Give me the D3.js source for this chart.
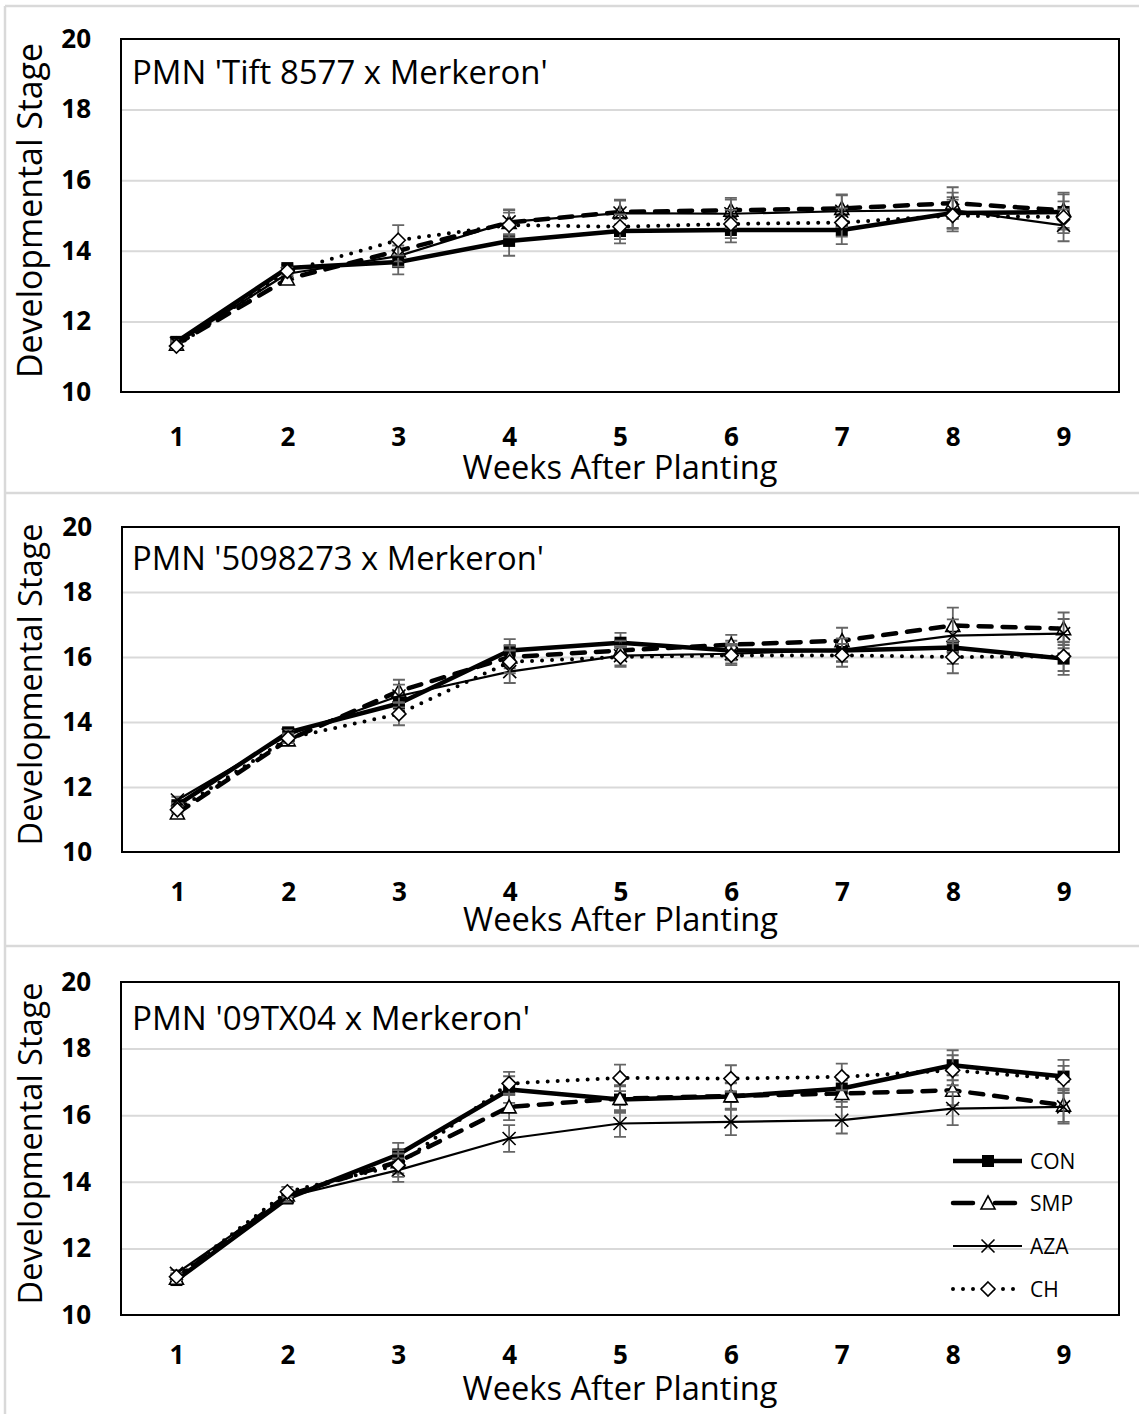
<!DOCTYPE html>
<html><head><meta charset="utf-8">
<script src="https://cdn.jsdelivr.net/npm/d3@7"></script>
<style>body{margin:0;background:#fff}svg{display:block}text{font-family:"Open Sans",sans-serif}</style>
</head><body><svg id="c" width="1139" height="1414"></svg>
<script>
const weeks = [1,2,3,4,5,6,7,8,9];
const yTicks = [10,12,14,16,18,20];
const seriesNames = ["CON","SMP","AZA","CH"];
const panelTitles = ["PMN 'Tift 8577 x Merkeron'", "PMN '5098273 x Merkeron'", "PMN '09TX04 x Merkeron'"];
const xTitle = "Weeks After Planting";
const yTitle = "Developmental Stage";

// Panel 1: Tift 8577 x Merkeron
const p1CON = [11.42,13.51,13.68,14.28,14.56,14.59,14.59,15.07,15.10];
const p1SMP = [11.35,13.20,14.00,14.80,15.10,15.15,15.20,15.35,15.15];
const p1AZA = [11.38,13.35,13.85,14.82,15.07,15.05,15.12,15.15,14.72];
const p1CH  = [11.30,13.42,14.30,14.73,14.68,14.76,14.80,15.00,14.95];
const p1CONerr = [0.08,0.10,0.35,0.42,0.35,0.35,0.40,0.45,0.50];
const p1SMPerr = [0.08,0.10,0.30,0.35,0.35,0.35,0.40,0.45,0.50];
const p1AZAerr = [0.08,0.10,0.30,0.35,0.35,0.40,0.45,0.50,0.45];
const p1CHerr  = [0.08,0.10,0.43,0.35,0.35,0.40,0.40,0.45,0.45];

// Panel 2: 5098273 x Merkeron
const p2CON = [11.44,13.68,14.57,16.20,16.44,16.20,16.20,16.29,15.95];
const p2SMP = [11.20,13.45,14.95,16.00,16.20,16.38,16.50,16.97,16.87];
const p2AZA = [11.60,13.60,14.80,15.55,16.04,16.10,16.22,16.66,16.72];
const p2CH  = [11.30,13.50,14.25,15.85,16.00,16.05,16.05,16.00,16.02];
const p2CONerr = [0.10,0.15,0.35,0.35,0.30,0.30,0.35,0.50,0.50];
const p2SMPerr = [0.10,0.15,0.35,0.35,0.30,0.30,0.40,0.55,0.50];
const p2AZAerr = [0.10,0.15,0.35,0.35,0.30,0.30,0.35,0.50,0.45];
const p2CHerr  = [0.10,0.15,0.35,0.35,0.30,0.30,0.35,0.50,0.45];

// Panel 3: 09TX04 x Merkeron
const p3CON = [11.05,13.50,14.82,16.77,16.47,16.56,16.80,17.50,17.16];
const p3SMP = [11.10,13.60,14.60,16.25,16.50,16.58,16.65,16.75,16.30];
const p3AZA = [11.25,13.55,14.35,15.30,15.75,15.80,15.85,16.20,16.25];
const p3CH  = [11.15,13.70,14.50,16.95,17.12,17.10,17.15,17.35,17.08];
const p3CONerr = [0.10,0.15,0.35,0.40,0.40,0.40,0.40,0.45,0.50];
const p3SMPerr = [0.10,0.15,0.35,0.40,0.40,0.40,0.40,0.45,0.50];
const p3AZAerr = [0.10,0.15,0.35,0.40,0.40,0.40,0.40,0.50,0.50];
const p3CHerr  = [0.10,0.15,0.35,0.35,0.40,0.40,0.40,0.45,0.40];

const panelData = [
  {CON:p1CON,SMP:p1SMP,AZA:p1AZA,CH:p1CH, err:{CON:p1CONerr,SMP:p1SMPerr,AZA:p1AZAerr,CH:p1CHerr}},
  {CON:p2CON,SMP:p2SMP,AZA:p2AZA,CH:p2CH, err:{CON:p2CONerr,SMP:p2SMPerr,AZA:p2AZAerr,CH:p2CHerr}},
  {CON:p3CON,SMP:p3SMP,AZA:p3AZA,CH:p3CH, err:{CON:p3CONerr,SMP:p3SMPerr,AZA:p3AZAerr,CH:p3CHerr}}
];

// layout (positions/styles kept out of data)
const layout = [
  {x0:121,x1:1119,y0:39,y1:392, titleY:84, xLabY:437, xTitleY:479},
  {x0:122,x1:1119,y0:527,y1:852, titleY:570, xLabY:892, xTitleY:931},
  {x0:121,x1:1119,y0:982,y1:1315, titleY:1030, xLabY:1355, xTitleY:1400}
];
const styles = {
  CON:{w:4.5, dash:null, cap:"butt"},
  SMP:{w:4.5, dash:"13,11", cap:"round"},
  AZA:{w:2.2, dash:null, cap:"butt"},
  CH:{w:4, dash:"0,10", cap:"round"}
};

const svg = d3.select("#c");
const frame = "#d9d9d9";
[[5,6,1139,6],[5,6,5,1414],[5,493,1139,493],[5,946,1139,946]].forEach(l=>
  svg.append("line").attr("x1",l[0]).attr("y1",l[1]).attr("x2",l[2]).attr("y2",l[3])
    .attr("stroke",frame).attr("stroke-width",2.5));

function fit(sel, target){
  const w = sel.node().getComputedTextLength();
  const fs = parseFloat(sel.attr("font-size"));
  sel.attr("font-size", fs*target/w);
}

function marker(g, name, cx, cy){
  if(name==="CON"){
    g.append("rect").attr("x",cx-6).attr("y",cy-6).attr("width",12).attr("height",12).attr("fill","#000");
  } else if(name==="SMP"){
    const s=7;
    g.append("path").attr("d",`M${cx},${cy-s}L${cx+s},${cy+s*0.85}L${cx-s},${cy+s*0.85}Z`)
      .attr("fill","#fff").attr("stroke","#000").attr("stroke-width",1.6);
  } else if(name==="AZA"){
    const s=6.5;
    g.append("path").attr("d",`M${cx-s},${cy-s}L${cx+s},${cy+s}M${cx-s},${cy+s}L${cx+s},${cy-s}`)
      .attr("stroke","#000").attr("stroke-width",1.6).attr("fill","none");
  } else {
    const s=7;
    g.append("path").attr("d",`M${cx},${cy-s}L${cx+s},${cy}L${cx},${cy+s}L${cx-s},${cy}Z`)
      .attr("fill","#fff").attr("stroke","#000").attr("stroke-width",1.6);
  }
}

layout.forEach((L,pi)=>{
  const D = panelData[pi];
  const g = svg.append("g");
  const x = d3.scalePoint().domain(weeks).range([L.x0,L.x1]).padding(0.5);
  const y = d3.scaleLinear().domain([10,20]).range([L.y1,L.y0]);

  g.append("g").attr("transform",`translate(${L.x0},0)`)
    .call(d3.axisLeft(y).tickValues(yTicks.slice(1,-1)).tickSize(-(L.x1-L.x0)).tickFormat(""))
    .call(a=>a.select(".domain").remove())
    .call(a=>a.selectAll("line").attr("stroke","#d9d9d9").attr("stroke-width",2));

  g.append("g").attr("transform",`translate(${L.x0},0)`)
    .call(d3.axisLeft(y).tickValues(yTicks).tickSize(0).tickPadding(30))
    .call(a=>a.select(".domain").remove())
    .call(a=>a.selectAll("text").attr("font-family","Open Sans").attr("font-weight","bold")
       .attr("font-size",26).attr("fill","#000"));

  g.append("g").attr("transform",`translate(0,${L.xLabY})`)
    .call(d3.axisBottom(x).tickSize(0).tickPadding(0))
    .call(a=>a.select(".domain").remove())
    .call(a=>a.selectAll("text").attr("dy","0.35em").attr("font-family","Open Sans").attr("font-weight","bold")
       .attr("font-size",26).attr("fill","#000"));

  g.append("rect").attr("x",L.x0).attr("y",L.y0).attr("width",L.x1-L.x0).attr("height",L.y1-L.y0)
    .attr("fill","none").attr("stroke","#000").attr("stroke-width",2);

  const t = g.append("text").attr("x",132).attr("y",L.titleY).attr("font-size",28).attr("fill","#000").text(panelTitles[pi]);
  fit(t, [416,412,398][pi]);

  const xt = g.append("text").attr("x",(L.x0+L.x1)/2).attr("y",L.xTitleY).attr("text-anchor","middle")
    .attr("font-size",28).attr("fill","#000").text(xTitle);
  fit(xt,315);
  const cy = (L.y0+L.y1)/2 - 5;
  const yt = g.append("text").attr("transform",`translate(42,${cy}) rotate(-90)`).attr("text-anchor","middle")
    .attr("font-size",28).attr("fill","#000").text(yTitle);
  fit(yt,[335,322,322][pi]);

  const line = d3.line().x((d,i)=>x(weeks[i])).y(d=>y(d));
  seriesNames.forEach(name=>{
    const vals = D[name], errs = D.err[name];
    const sg = g.append("g");
    vals.forEach((v,i)=>{
      const cx = x(weeks[i]);
      const top = y(v+errs[i]), bot = y(v-errs[i]);
      sg.append("path").attr("d",`M${cx},${top}V${bot}M${cx-6},${top}H${cx+6}M${cx-6},${bot}H${cx+6}`)
        .attr("stroke","#666").attr("stroke-width",1.8).attr("fill","none");
    });
    const st = styles[name];
    sg.append("path").attr("d",line(vals)).attr("fill","none").attr("stroke","#000")
      .attr("stroke-width",st.w).attr("stroke-dasharray",st.dash).attr("stroke-linecap",st.cap)
      .attr("stroke-linejoin","round");
    vals.forEach((v,i)=>marker(sg,name,x(weeks[i]),y(v)));
  });

  if(pi===2){
    const lg = g.append("g");
    const ly = [1161,1203,1246,1289];
    seriesNames.forEach((name,i)=>{
      const st = styles[name];
      lg.append("line").attr("x1",953).attr("x2",1022).attr("y1",ly[i]).attr("y2",ly[i])
        .attr("stroke","#000").attr("stroke-width",st.w)
        .attr("stroke-dasharray", name==="SMP" ? "20,22,20" : st.dash)
        .attr("stroke-linecap",st.cap);
      marker(lg,name,988,ly[i]);
      lg.append("text").attr("x",1030).attr("y",ly[i]).attr("dy","0.36em").attr("font-size",21)
        .attr("fill","#000").text(name);
    });
  }
});
</script></body></html>
